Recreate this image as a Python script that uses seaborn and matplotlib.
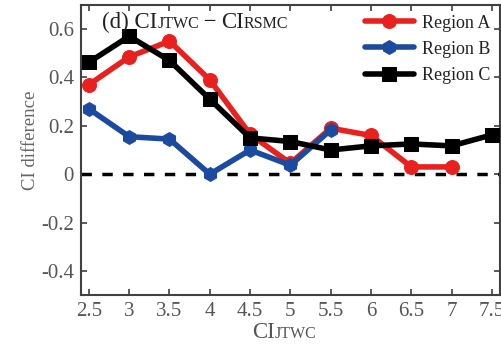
import matplotlib
matplotlib.use("Agg")
import matplotlib.pyplot as plt
import seaborn as sns
import pandas as pd

sns.set_theme(style="ticks")
plt.rcParams['font.family'] = ['Liberation Serif', 'DejaVu Serif']
plt.rcParams['mathtext.fontset'] = 'stix'

x_a = [2.5, 3, 3.5, 4, 4.5, 5, 5.5, 6, 6.5, 7]
region_a = [0.37, 0.485, 0.55, 0.39, 0.165, 0.045, 0.19, 0.16, 0.03, 0.03]
x_b = [2.5, 3, 3.5, 4, 4.5, 5, 5.5]
region_b = [0.27, 0.155, 0.145, 0.0, 0.10, 0.037, 0.183]
x_c = [2.5, 3, 3.5, 4, 4.5, 5, 5.5, 6, 6.5, 7, 7.5]
region_c = [0.4625, 0.57, 0.47, 0.31, 0.15, 0.135, 0.10, 0.117, 0.125, 0.117, 0.1625]
xticks = [2.5, 3, 3.5, 4, 4.5, 5, 5.5, 6, 6.5, 7, 7.5]
xticklabels = ['2.5', '3', '3.5', '4', '4.5', '5', '5.5', '6', '6.5', '7', '7.5']
yticks = [-0.4, -0.2, 0, 0.2, 0.4, 0.6]
yticklabels = ['-0.4', '-0.2', '0', '0.2', '0.4', '0.6']

fig = plt.figure(figsize=(5.02, 3.46), dpi=100)
ax = fig.add_axes([0.161, 0.147, 0.835, 0.839])

ax.axhline(0, color='black', lw=2.5, ls=(0, (3, 3)), zorder=1)

series = [
    ("Region A", x_a, region_a, '#e8201e', 'o'),
    ("Region B", x_b, region_b, '#1a4ba0', 'h'),
    ("Region C", x_c, region_c, '#000000', 's'),
]
for name, xs, ys, col, mk in series:
    df = pd.DataFrame({'x': xs, 'y': ys})
    sns.lineplot(data=df, x='x', y='y', ax=ax, color=col, lw=4, marker=mk,
                 markersize=10, markeredgecolor=col, label=name, zorder=3)

ax.set_xlim(2.4, 7.6)
ax.set_ylim(-0.5, 0.7)
ax.set_xticks(xticks)
ax.set_xticklabels(xticklabels)
ax.set_yticks(yticks)
ax.set_yticklabels(yticklabels)
tc = '#555555'
ax.tick_params(direction='in', top=True, right=True, length=4, width=1.2,
               colors='#404040', labelcolor=tc, labelsize=15, pad=5)
ax.tick_params(axis='x', labeltop=False)
ax.tick_params(axis='y', labelright=False)
for s in ax.spines.values():
    s.set_color('#404040')
    s.set_linewidth(1.5)

ax.set_ylabel('CI difference', color='#666666', fontsize=13.5)
ax.yaxis.set_label_coords(-0.1, 0.534)
ax.set_xlabel('')

leg = ax.legend(loc='upper right', frameon=False, fontsize=13, handlelength=2.7,
                borderaxespad=0.15, labelspacing=0.5, handletextpad=0.45,
                bbox_to_anchor=(1.0, 1.0))
for t in leg.get_texts():
    t.set_color('#222222')

# Title with small-caps style subscripts, placed piece by piece
fig.canvas.draw()
renderer = fig.canvas.get_renderer()

def draw_pieces(pieces, x0, y0, coords, color):
    x = x0
    for txt, size in pieces:
        t = fig.text(x, y0, txt, fontsize=size, color=color, transform=coords, va='baseline')
        bb = t.get_window_extent(renderer=renderer)
        x = coords.inverted().transform((bb.x1, bb.y0))[0]
    return x

draw_pieces([("(d) CI", 16.5), ("JTWC", 11.5), ("\u2009\u2212\u2009", 16.5), ("CI", 16.5), ("RSMC", 11.5)],
            0.203, 0.918, fig.transFigure, '#222222')
draw_pieces([("CI", 16.5), ("JTWC", 11.5)], 0.502, 0.022, fig.transFigure, tc)

fig.savefig('out.png', dpi=100)
